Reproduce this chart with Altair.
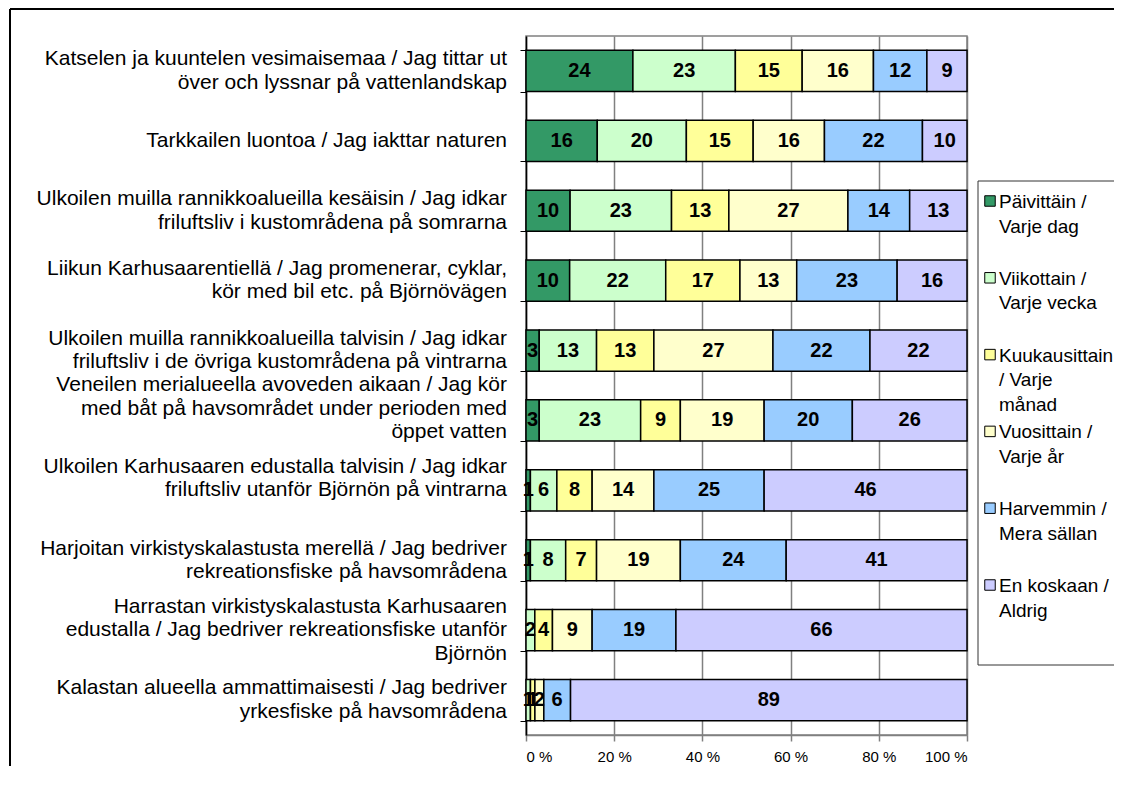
import altair as alt
import pandas as pd

rows = [
    "Katselen ja kuuntelen vesimaisemaa / Jag tittar ut|över och lyssnar på vattenlandskap",
    "Tarkkailen luontoa / Jag iakttar naturen",
    "Ulkoilen muilla rannikkoalueilla kesäisin / Jag idkar|friluftsliv i kustområdena på somrarna",
    "Liikun Karhusaarentiellä / Jag promenerar, cyklar,|kör med bil etc. på Björnövägen",
    "Ulkoilen muilla rannikkoalueilla talvisin / Jag idkar|friluftsliv i de övriga kustområdena på vintrarna",
    "Veneilen merialueella avoveden aikaan / Jag kör|med båt på havsområdet under perioden med|öppet vatten",
    "Ulkoilen Karhusaaren edustalla talvisin / Jag idkar|friluftsliv utanför Björnön på vintrarna",
    "Harjoitan virkistyskalastusta merellä / Jag bedriver|rekreationsfiske på havsområdena",
    "Harrastan virkistyskalastusta Karhusaaren|edustalla / Jag bedriver rekreationsfiske utanför|Björnön",
    "Kalastan alueella ammattimaisesti / Jag bedriver|yrkesfiske på havsområdena",
]
# half-lines by which a label sits above its bar (as in the original's label layout)
label_lift = [0, 0, 0, 0, 0, 1, 1, 0, 0, 0]

categories = [
    "Päivittäin / Varje dag",
    "Viikottain / Varje vecka",
    "Kuukausittain / Varje månad",
    "Vuosittain / Varje år",
    "Harvemmin / Mera sällan",
    "En koskaan / Aldrig",
]
legend_labels = [
    "Päivittäin /\nVarje dag",
    "Viikottain /\nVarje vecka",
    "Kuukausittain\n/ Varje\nmånad",
    "Vuosittain /\nVarje år",
    "Harvemmin /\nMera sällan",
    "En koskaan /\nAldrig",
]
colors = ["#339966", "#CCFFCC", "#FFFF99", "#FFFFCC", "#99CCFF", "#CCCCFF"]

paivittain = [24, 16, 10, 10, 3, 3, 1, 1, 0, 0]
viikottain = [23, 20, 23, 22, 13, 23, 6, 8, 2, 1]
kuukausittain = [15, 15, 13, 17, 13, 9, 8, 7, 4, 1]
vuosittain = [16, 16, 27, 13, 27, 19, 14, 19, 9, 2]
harvemmin = [12, 22, 14, 23, 22, 20, 25, 24, 19, 6]
en_koskaan = [9, 10, 13, 16, 22, 26, 46, 41, 66, 89]
series = [paivittain, viikottain, kuukausittain, vuosittain, harvemmin, en_koskaan]

records = []
for ci, (cat, vals) in enumerate(zip(categories, series)):
    for r, v in zip(rows, vals):
        records.append({"row": r, "cat": cat, "order": ci, "value": v})
df = pd.DataFrame(records)

FONT = "Liberation Sans"
WIDTH, HEIGHT = 441, 699
PAD_INNER = 0.41
LABEL_LH = 23.5
half_band = HEIGHT / len(rows) * (1 - PAD_INNER) / 2

# yOffset is measured from the band's top; the first text line sits at the anchor,
# so move each label down to the band centre and up by half its extra lines
lab_df = pd.DataFrame({
    "row": rows,
    "shift": [half_band - (r.count("|") + n) * LABEL_LH / 2
              for r, n in zip(rows, label_lift)],
})

x_axis = alt.Axis(
    values=[0, 0.2, 0.4, 0.6, 0.8, 1.0],
    labelExpr="round(datum.value * 100) + ' %'",
    grid=True, gridColor="#808080", gridWidth=1.5,
    domainColor="#808080", domainWidth=1.5,
    tickColor="#808080", tickWidth=1.5, tickSize=6,
    labelFontSize=15, labelPadding=8, labelColor="black",
    labelFont=FONT, title=None,
)
y_axis = alt.Axis(
    labels=False,
    tickSize=6, tickBand="extent", tickColor="black",
    domainColor="black", domainWidth=1.5, title=None,
)
x_scale = alt.Scale(domain=[0, 1], nice=False)
y_scale = alt.Scale(paddingInner=PAD_INNER, paddingOuter=PAD_INNER / 2)
y_enc = alt.Y("row:N", sort=rows, axis=y_axis, scale=y_scale)
color_enc = alt.Color("cat:N", scale=alt.Scale(domain=categories, range=colors), legend=None)

base = (
    alt.Chart(df)
    .transform_filter("datum.value > 0")
    .transform_stack(stack="value", groupby=["row"], as_=["s", "e"],
                     offset="normalize", sort=[alt.SortField("order")])
    .transform_calculate(mid="(datum.s + datum.e) / 2")
)

bars = base.mark_bar(stroke="black", strokeWidth=1.5).encode(
    x=alt.X("s:Q", scale=x_scale, axis=x_axis),
    x2="e:Q",
    y=y_enc,
    color=color_enc,
)
texts = base.mark_text(fontSize=20, fontWeight="bold", color="black", font=FONT).encode(
    x=alt.X("mid:Q", scale=x_scale, axis=x_axis),
    y=y_enc,
    text="value:Q",
)
row_labels = alt.Chart(lab_df).mark_text(
    align="right", baseline="middle", fontSize=21, lineBreak="|",
    lineHeight=LABEL_LH, font=FONT, color="black",
).encode(
    x=alt.value(-19),
    y=y_enc,
    yOffset=alt.YOffset("shift:Q", scale=None),
    text="row:N",
)
main = alt.layer(bars, texts, row_labels)

leg_df = pd.DataFrame({"cat": categories, "label": legend_labels})
leg_y = alt.Y("cat:N", sort=categories, axis=None,
              scale=alt.Scale(type="point", range=[165, 549], padding=0))
leg_sq = alt.Chart(leg_df).mark_square(size=110, stroke="black", strokeWidth=1, opacity=1).encode(
    x=alt.value(464), y=leg_y, color=color_enc)
leg_txt = alt.Chart(leg_df).mark_text(
    align="left", baseline="alphabetic", dy=7, fontSize=19, lineBreak="\n",
    lineHeight=24.5, font=FONT, color="black",
).encode(x=alt.value(473), y=leg_y, text="label:N")
legend = alt.layer(leg_sq, leg_txt)

one = alt.Data(values=[{"k": 0}])
frame_top = alt.Chart(one).mark_rule(color="black", strokeWidth=2).encode(
    x=alt.value(-516), x2=alt.value(800), y=alt.value(-27))
frame_left = alt.Chart(one).mark_rule(color="black", strokeWidth=2).encode(
    x=alt.value(-516), y=alt.value(-27), y2=alt.value(900))
box_top = alt.Chart(one).mark_rule(color="#333333", strokeWidth=1).encode(
    x=alt.value(452), x2=alt.value(800), y=alt.value(145))
box_left = alt.Chart(one).mark_rule(color="#333333", strokeWidth=1).encode(
    x=alt.value(452), y=alt.value(145), y2=alt.value(629))
box_bottom = alt.Chart(one).mark_rule(color="#333333", strokeWidth=1).encode(
    x=alt.value(452), x2=alt.value(800), y=alt.value(629))

chart = (
    alt.layer(frame_top, frame_left, main, box_top, box_left, box_bottom, legend)
    .resolve_scale(y="independent")
    .properties(width=WIDTH, height=HEIGHT,
                autosize=alt.AutoSizeParams(type="none"),
                padding={"left": 518, "top": 28, "right": 147, "bottom": 31})
    .configure(font=FONT)
    .configure_view(stroke="#808080", strokeWidth=1.5)
)

chart.save("out.html", embed_options={"renderer": "svg", "actions": False})
